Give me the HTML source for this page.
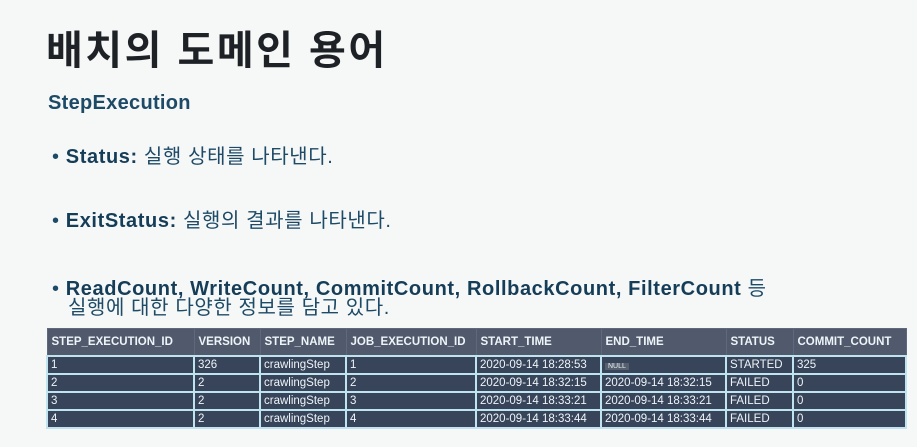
<!DOCTYPE html>
<html><head><meta charset="utf-8"><style>
body{margin:0;width:917px;height:447px;background:#f6f7f7;position:relative;overflow:hidden;font-family:"Liberation Sans","Noto Sans CJK KR",sans-serif;}
.t{position:absolute;white-space:nowrap;}
#title{left:46px;top:18px;font-size:40px;letter-spacing:2.5px;font-weight:bold;color:#1e2226;}
#sub{left:48px;top:92px;font-size:20px;font-weight:bold;color:#1d4a66;letter-spacing:0.3px;}
.b{font-size:20px;color:#1d4a66;left:52px;letter-spacing:0.6px;}
.b b{color:#153d58;}
table{position:absolute;left:46px;top:328px;width:859px;table-layout:fixed;border-collapse:collapse;font-size:11.5px;color:#eef4f8;}
th{background:#505a6c;text-align:left;height:26px;padding:0 4px;font-weight:bold;border:1px solid #5e6a7c;overflow:hidden;white-space:nowrap;}
td{background:#37445a;height:16px;padding:0 3px;border:2px solid #bfe4f0;overflow:hidden;white-space:nowrap;}
</style></head><body>
<div class="t" id="title">배치의 도메인 용어</div>
<div class="t" id="sub">StepExecution</div>
<div class="t b" style="top:140px">• <b>Status:</b> 실행 상태를 나타낸다.</div>
<div class="t b" style="top:204px">• <b>ExitStatus:</b> 실행의 결과를 나타낸다.</div>
<div class="t b" style="top:272px">• <b>ReadCount, WriteCount, CommitCount, RollbackCount, FilterCount</b> 등</div>
<div class="t b" style="top:291px;left:68px">실행에 대한 다양한 정보를 담고 있다.</div>
<table>
<colgroup><col style="width:147px"><col style="width:66px"><col style="width:86px"><col style="width:130px"><col style="width:125px"><col style="width:125px"><col style="width:67px"><col style="width:113px"></colgroup>
<tr><th>STEP_EXECUTION_ID</th><th>VERSION</th><th>STEP_NAME</th><th>JOB_EXECUTION_ID</th><th>START_TIME</th><th>END_TIME</th><th>STATUS</th><th>COMMIT_COUNT</th></tr>
<tr><td>1</td><td>326</td><td>crawlingStep</td><td>1</td><td>2020-09-14 18:28:53</td><td><span style="font-size:7px;background:#555f6e;padding:0 3px">NULL</span></td><td>STARTED</td><td>325</td></tr>
<tr><td>2</td><td>2</td><td>crawlingStep</td><td>2</td><td>2020-09-14 18:32:15</td><td>2020-09-14 18:32:15</td><td>FAILED</td><td>0</td></tr>
<tr><td>3</td><td>2</td><td>crawlingStep</td><td>3</td><td>2020-09-14 18:33:21</td><td>2020-09-14 18:33:21</td><td>FAILED</td><td>0</td></tr>
<tr><td>4</td><td>2</td><td>crawlingStep</td><td>4</td><td>2020-09-14 18:33:44</td><td>2020-09-14 18:33:44</td><td>FAILED</td><td>0</td></tr>
</table>
</body></html>
